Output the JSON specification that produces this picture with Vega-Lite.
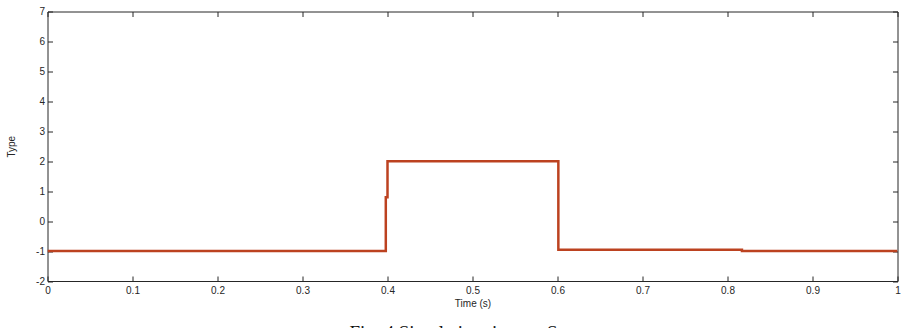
{
  "$schema": "https://vega.github.io/schema/vega-lite/v6.json",
  "width": 850,
  "height": 269.5,
  "autosize": "none",
  "padding": {"left": 47.5, "top": 11.5, "right": 12.5, "bottom": 47},
  "background": "white",
  "data": {"values": [
    {"i": 0, "t": 0, "type": -1},
    {"i": 1, "t": 0.398, "type": -1},
    {"i": 2, "t": 0.398, "type": 0.8},
    {"i": 3, "t": 0.4, "type": 0.8},
    {"i": 4, "t": 0.4, "type": 2},
    {"i": 5, "t": 0.601, "type": 2},
    {"i": 6, "t": 0.601, "type": -0.96},
    {"i": 7, "t": 0.817, "type": -0.96},
    {"i": 8, "t": 0.817, "type": -1},
    {"i": 9, "t": 1, "type": -1}
  ]},
  "config": {
    "view": {"stroke": null},
    "axis": {
      "domainColor": "#262626",
      "domainWidth": 1,
      "tickColor": "#262626",
      "tickSize": -5,
      "labelColor": "#262626",
      "labelFont": "Liberation Sans",
      "labelFontSize": 10,
      "titleFont": "Liberation Sans",
      "titleFontSize": 10,
      "titleFontWeight": "normal",
      "titleColor": "#262626",
      "grid": false
    }
  },
  "title": {
    "text": "Fig. 4 Simulation time vs Sector",
    "orient": "bottom",
    "font": "Liberation Serif",
    "fontSize": 19,
    "fontWeight": "normal",
    "color": "#111111",
    "offset": 16
  },
  "layer": [
    {
      "mark": {"type": "line", "color": "#bc4220", "strokeWidth": 2.5, "clip": true},
      "encoding": {
        "x": {"field": "t", "type": "quantitative", "scale": {"domain": [0, 1], "nice": false},
              "axis": {"title": "Time (s)", "values": [0,0.1,0.2,0.3,0.4,0.5,0.6,0.7,0.8,0.9,1], "labelFlush": false, "labelPadding": 9, "titlePadding": 3,
                       "labelExpr": "replace(datum.label, '\u2212', '-')", "format": "~g"}},
        "y": {"field": "type", "type": "quantitative", "scale": {"domain": [-2, 7], "nice": false, "zero": false},
              "axis": {"title": "Type", "values": [-2,-1,0,1,2,3,4,5,6,7], "labelPadding": 8, "titlePadding": 19,
                       "labelExpr": "replace(datum.label, '\u2212', '-')", "format": "~g"}},
        "order": {"field": "i", "type": "quantitative"}
      }
    },
    {
      "mark": {"type": "line", "opacity": 0},
      "encoding": {
        "x": {"field": "t", "type": "quantitative", "scale": {"domain": [0, 1], "nice": false},
              "axis": {"orient": "top", "title": null, "labels": false, "values": [0,0.1,0.2,0.3,0.4,0.5,0.6,0.7,0.8,0.9,1]}},
        "y": {"field": "type", "type": "quantitative", "scale": {"domain": [-2, 7], "nice": false, "zero": false},
              "axis": {"orient": "right", "title": null, "labels": false, "values": [-2,-1,0,1,2,3,4,5,6,7]}},
        "order": {"field": "i", "type": "quantitative"}
      }
    }
  ],
  "resolve": {"axis": {"x": "independent", "y": "independent"}}
}
